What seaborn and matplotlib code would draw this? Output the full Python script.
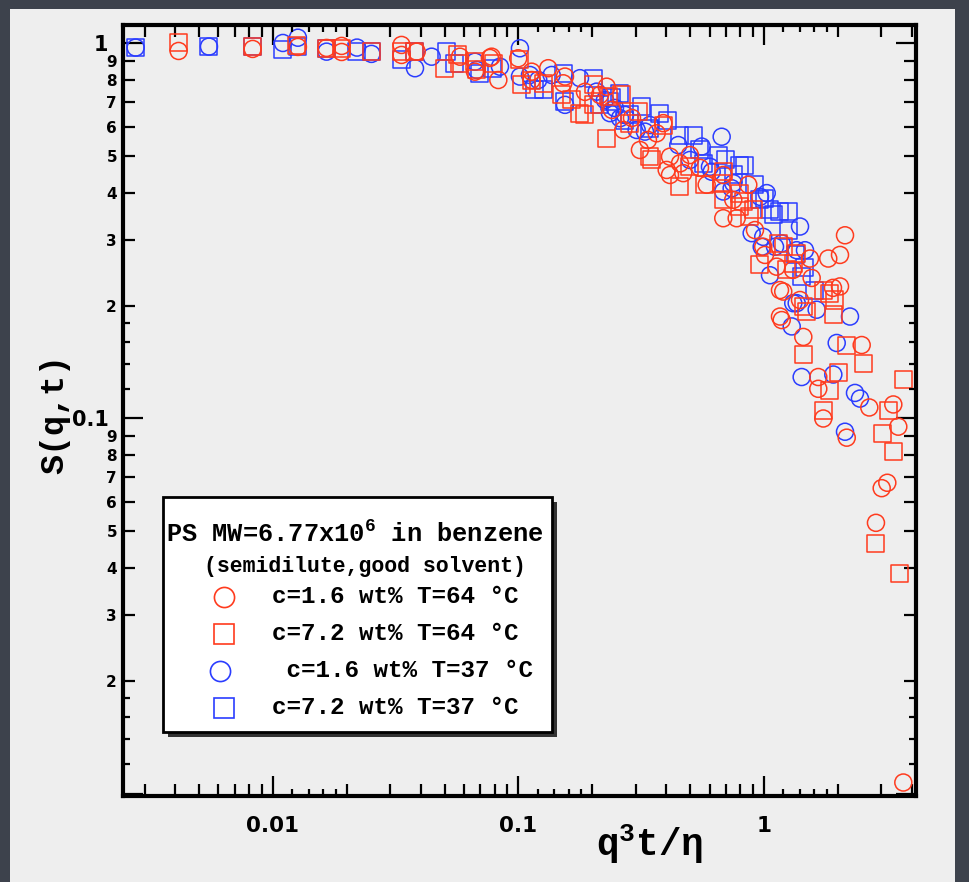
import numpy as np
import pandas as pd
import matplotlib
matplotlib.use("Agg")
import matplotlib.pyplot as plt
import matplotlib.ticker as mticker
from matplotlib.patches import Rectangle
import seaborn as sns

# ---------------- data ----------------
RC_X = [0.00413, 0.00827, 0.01264, 0.01654, 0.01905, 0.01905, 0.0334, 0.0334, 0.0385, 0.0578,
        0.0665, 0.0765, 0.0778, 0.0828, 0.0998, 0.1132, 0.1132, 0.1322, 0.1522, 0.1547,
        0.1866, 0.2148, 0.2287, 0.2404, 0.2673, 0.290, 0.3125, 0.3368, 0.3655, 0.389,
        0.4016, 0.4142, 0.4142, 0.4549, 0.4692, 0.4995, 0.5486, 0.5842, 0.6826, 0.6826,
        0.7498, 0.7742, 0.863, 0.919, 0.993, 1.009, 1.126, 1.162, 1.162, 1.181,
        1.198, 1.313, 1.402, 1.446, 1.539, 1.564, 1.664, 1.664, 1.744, 1.827,
        1.910, 2.040, 2.040, 2.138, 2.173, 2.500, 2.685, 2.858, 3.016, 3.179,
        3.363, 3.524, 3.694]
RC_Y = [0.955, 0.967, 0.979, 0.973, 0.985, 0.949, 0.991, 0.932, 0.951, 0.922,
        0.841, 0.915, 0.922, 0.799, 0.913, 0.799, 0.841, 0.859, 0.783, 0.816,
        0.743, 0.729, 0.767, 0.665, 0.588, 0.633, 0.520, 0.553, 0.576, 0.613,
        0.460, 0.499, 0.446, 0.479, 0.451, 0.504, 0.466, 0.420, 0.446, 0.342,
        0.383, 0.342, 0.420, 0.318, 0.287, 0.273, 0.254, 0.220, 0.187, 0.183,
        0.218, 0.249, 0.207, 0.165, 0.267, 0.237, 0.129, 0.120, 0.100, 0.267,
        0.223, 0.273, 0.225, 0.308, 0.0889, 0.157, 0.107, 0.0527, 0.0652, 0.0674,
        0.109, 0.0951, 0.0107]

RS_X = [0.00413, 0.00827, 0.01249, 0.01654, 0.01905, 0.0252, 0.0334, 0.0379, 0.0502, 0.0567,
        0.0578, 0.0665, 0.0676, 0.0789, 0.1014, 0.1030, 0.1132, 0.1262, 0.150, 0.1647,
        0.1781, 0.1866, 0.2017, 0.2017, 0.2287, 0.2322, 0.2633, 0.2845, 0.3076, 0.3432,
        0.3487, 0.389, 0.4549, 0.4995, 0.575, 0.6725, 0.6826, 0.6826, 0.7985, 0.7985,
        0.8236, 0.877, 0.9046, 0.963, 1.144, 1.198, 1.237, 1.316, 1.359, 1.446,
        1.446, 1.493, 1.744, 1.744, 1.857, 1.857, 1.916, 1.946, 2.007, 2.173,
        2.538, 2.858, 3.045, 3.209, 3.363, 3.548, 3.694]
RS_Y = [1.007, 0.981, 0.987, 0.971, 0.971, 0.951, 0.951, 0.951, 0.859, 0.932,
        0.886, 0.894, 0.850, 0.886, 0.904, 0.775, 0.799, 0.783, 0.729, 0.707,
        0.652, 0.645, 0.775, 0.686, 0.559, 0.721, 0.729, 0.613, 0.658, 0.499,
        0.489, 0.606, 0.415, 0.469, 0.420, 0.424, 0.455, 0.383, 0.399, 0.367,
        0.379, 0.345, 0.360, 0.257, 0.293, 0.287, 0.249, 0.259, 0.276, 0.199,
        0.148, 0.193, 0.220, 0.105, 0.216, 0.119, 0.189, 0.207, 0.133, 0.157,
        0.140, 0.0463, 0.0913, 0.105, 0.0816, 0.0385, 0.127]

BC_X = [0.00276, 0.00549, 0.01098, 0.01264, 0.01654, 0.0220, 0.0252, 0.0379, 0.0443, 0.0665,
        0.0676, 0.0841, 0.1014, 0.1014, 0.1114, 0.1204, 0.1365, 0.1547, 0.1781, 0.2082,
        0.2251, 0.2359, 0.2472, 0.2591, 0.2715, 0.303, 0.3275, 0.3432, 0.4477, 0.4995,
        0.5574, 0.6026, 0.6124, 0.6725, 0.6826, 0.7386, 0.7498, 0.891, 0.963, 0.979,
        0.993, 1.026, 1.058, 1.109, 1.181, 1.297, 1.316, 1.359, 1.359, 1.402,
        1.424, 1.469, 1.639, 1.916, 1.978, 2.138, 2.240, 2.348, 2.460]
BC_Y = [0.975, 0.981, 1.003, 1.036, 0.951, 0.975, 0.938, 0.859, 0.922, 0.894,
        0.850, 0.867, 0.971, 0.816, 0.824, 0.799, 0.824, 0.686, 0.808, 0.744,
        0.707, 0.652, 0.673, 0.632, 0.645, 0.588, 0.582, 0.606, 0.536, 0.489,
        0.531, 0.469, 0.455, 0.564, 0.403, 0.411, 0.424, 0.312, 0.390, 0.287,
        0.305, 0.399, 0.241, 0.287, 0.293, 0.176, 0.203, 0.281, 0.203, 0.325,
        0.129, 0.281, 0.195, 0.131, 0.159, 0.0922, 0.187, 0.117, 0.113]

BS_X = [0.00276, 0.00549, 0.00827, 0.01098, 0.01264, 0.01654, 0.0220, 0.0252, 0.0334, 0.0379,
        0.0510, 0.0551, 0.0697, 0.0787, 0.1167, 0.1262, 0.1522, 0.1547, 0.2017, 0.2359,
        0.2591, 0.2715, 0.3175, 0.3432, 0.3771, 0.4549, 0.5152, 0.5658, 0.6514, 0.7498,
        0.7985, 0.8368, 0.963, 1.058, 1.091, 1.162, 1.256, 1.256, 1.424, 1.613,
        0.2148, 0.2404, 0.2845, 0.4064, 0.5486, 0.694, 0.919, 1.009, 1.338, 1.469]
BS_Y = [0.975, 0.981, 0.981, 0.961, 0.981, 0.971, 0.951, 0.951, 0.904, 0.951,
        0.951, 0.886, 0.833, 0.859, 0.752, 0.752, 0.833, 0.700, 0.808, 0.700,
        0.737, 0.625, 0.678, 0.595, 0.652, 0.570, 0.570, 0.479, 0.504, 0.446,
        0.474, 0.474, 0.383, 0.360, 0.349, 0.356, 0.318, 0.356, 0.239, 0.220,
        0.686, 0.716, 0.645, 0.625, 0.520, 0.489, 0.420, 0.387, 0.273, 0.252]

SERIES_LABELS = ["c=1.6 wt% T=64 \u00b0C", "c=7.2 wt% T=64 \u00b0C",
                 " c=1.6 wt% T=37 \u00b0C", "c=7.2 wt% T=37 \u00b0C"]
LEGEND_HEAD = ["PS MW=6.77x10$^{6}$ in benzene", "(semidilute,good solvent)"]
X_MAJOR = [0.01, 0.1, 1]
X_MAJOR_LABELS = ["0.01", "0.1", "1"]
Y_MAJOR = [0.01, 0.1, 1]
Y_MAJOR_LABELS = ["", "0.1", "1"]
X_LABEL = "q$^{3}$t/\u03b7"
Y_LABEL = "S(q,t)"

# ---------------- style ----------------
sns.set_theme(style="ticks")
plt.rcParams["font.family"] = ["DejaVu Sans"]
plt.rcParams["font.weight"] = "bold"
plt.rcParams["text.color"] = "black"
plt.rcParams["axes.labelcolor"] = "black"
plt.rcParams["xtick.color"] = "black"
plt.rcParams["ytick.color"] = "black"
plt.rcParams["mathtext.fontset"] = "custom"
plt.rcParams["mathtext.rm"] = "Liberation Mono:bold"
plt.rcParams["mathtext.it"] = "Liberation Mono:bold"
plt.rcParams["mathtext.bf"] = "Liberation Mono:bold"
plt.rcParams["mathtext.default"] = "rm"

RED = "#ff3b1e"
BLUE = "#2b3dff"
BG_DARK = "#3d424c"
PANEL = "#eeeeee"
MONO = "Liberation Mono"

fig = plt.figure(figsize=(9.69, 8.82), dpi=100)
fig.patch.set_facecolor(BG_DARK)
fig.add_artist(Rectangle((10 / 969, 0), 945 / 969, 873 / 882, transform=fig.transFigure,
                         facecolor=PANEL, edgecolor="none", zorder=-10))
ax = fig.add_axes([0.12642, 0.09807, 0.81940, 0.87358])
ax.set_facecolor(PANEL)
ax.set_xscale("log")
ax.set_yscale("log")

frames = []
for name, xs, ys in [("rc", RC_X, RC_Y), ("rs", RS_X, RS_Y), ("bc", BC_X, BC_Y), ("bs", BS_X, BS_Y)]:
    frames.append(pd.DataFrame({"x": xs, "y": ys, "series": name}))
df = pd.concat(frames, ignore_index=True)

styles = {"bs": ("s", BLUE), "bc": ("o", BLUE), "rs": ("s", RED), "rc": ("o", RED)}
for name in ["bs", "bc", "rs", "rc"]:
    m, c = styles[name]
    sub = df[df["series"] == name]
    sns.scatterplot(data=sub, x="x", y="y", ax=ax, marker=m, s=150, facecolors="none",
                    edgecolor=c, linewidth=1.1, legend=False, zorder=3)

XLIM = (0.00244, 4.18)
YLIM = (0.00988, 1.12)

# ---------------- ticks ----------------
ax.xaxis.set_major_locator(mticker.FixedLocator(X_MAJOR))
ax.xaxis.set_major_formatter(mticker.FixedFormatter(X_MAJOR_LABELS))
x_minor = [m * 10.0 ** e for e in range(-3, 1) for m in range(2, 10)]
ax.xaxis.set_minor_locator(mticker.FixedLocator(x_minor))
ax.xaxis.set_minor_formatter(mticker.NullFormatter())

ax.yaxis.set_major_locator(mticker.FixedLocator(Y_MAJOR))
ax.yaxis.set_major_formatter(mticker.FixedFormatter(Y_MAJOR_LABELS))
y_minor = [m * 10.0 ** e for e in range(-2, 0) for m in range(2, 10)]
ax.yaxis.set_minor_locator(mticker.FixedLocator(y_minor))
ax.yaxis.set_minor_formatter(mticker.FuncFormatter(
    lambda v, p: f"{int(round(v / 10 ** np.floor(np.log10(v) + 1e-9)))}"))

ax.tick_params(which="both", direction="in", top=True, right=True, width=1.6, color="black")
ax.tick_params(which="major", length=14.5)
ax.tick_params(which="minor", length=8.5)
ax.tick_params(axis="x", which="major", labelsize=15.5, pad=15)
ax.tick_params(axis="y", which="major", labelsize=15, pad=10)
ax.tick_params(axis="y", which="minor", labelsize=11, pad=4)

short_x = [m * 10.0 ** e for e in range(-3, 1) for m in (1.2, 1.4, 1.6, 1.8)]
short_x = [v for v in short_x if XLIM[0] < v < XLIM[1]]
short_y = [m * 10.0 ** e for e in range(-2, 0) for m in (1.2, 1.4, 1.6, 1.8)]
short_y = [v for v in short_y if YLIM[0] < v < YLIM[1]]
tx = ax.get_xaxis_transform()
ty = ax.get_yaxis_transform()
ax.vlines(short_x, 0, 7 / 770.5, transform=tx, colors="black", lw=1.6, clip_on=False, zorder=4)
ax.vlines(short_x, 1 - 7 / 770.5, 1, transform=tx, colors="black", lw=1.6, clip_on=False, zorder=4)
ax.hlines(short_y, 0, 7 / 794, transform=ty, colors="black", lw=1.6, clip_on=False, zorder=4)
ax.hlines(short_y, 1 - 7 / 794, 1, transform=ty, colors="black", lw=1.6, clip_on=False, zorder=4)

ax.set_xlim(*XLIM)
ax.set_ylim(*YLIM)

for s in ax.spines.values():
    s.set_visible(True)
    s.set_linewidth(3.0)
    s.set_color("black")
    s.set_zorder(5)

# ---------------- axis labels ----------------
ax.set_xlabel(X_LABEL, fontfamily=MONO, fontweight="bold", fontsize=27)
ax.xaxis.set_label_coords(0.664, -0.033)
ax.set_ylabel(Y_LABEL, fontfamily=MONO, fontweight="bold", fontsize=24)
ax.yaxis.set_label_coords(-0.066, 0.495)

# ---------------- legend box ----------------
def axx(px):
    return (px - 122.5) / 794.0

def axy(py):
    return (795.5 - py) / 770.5

bx0, bx1, by0, by1 = axx(162.7), axx(551.7), axy(732.3), axy(497.3)
ax.add_patch(Rectangle((bx0 + 5 / 794, by0 - 5 / 770.5), bx1 - bx0, by1 - by0, transform=ax.transAxes,
                       facecolor="#333333", edgecolor="none", zorder=6, clip_on=False))
ax.add_patch(Rectangle((bx0, by0), bx1 - bx0, by1 - by0, transform=ax.transAxes,
                       facecolor="white", edgecolor="black", lw=2.0, zorder=7, clip_on=False))

ax.text(axx(166), axy(541.5), LEGEND_HEAD[0], transform=ax.transAxes, fontfamily=MONO,
        fontweight="bold", fontsize=18.3, ha="left", va="baseline", zorder=8)
ax.text(axx(204), axy(572), LEGEND_HEAD[1], transform=ax.transAxes, fontfamily=MONO,
        fontweight="bold", fontsize=15.5, ha="left", va="baseline", zorder=8)

rows_y = [597.3, 634.3, 671.0, 707.7]
mk_x = [224, 224, 220, 224]
txt_x = [272, 272, 272, 272]
entry_styles = [("o", RED), ("s", RED), ("o", BLUE), ("s", BLUE)]
for lab, ry, mx, tx0, (m, c) in zip(SERIES_LABELS, rows_y, mk_x, txt_x, entry_styles):
    ax.plot([axx(mx)], [axy(ry)], marker=m, ms=14.5, mfc="none", mec=c, mew=1.2, ls="none",
            transform=ax.transAxes, zorder=8, clip_on=False)
    ax.text(axx(tx0), axy(ry + 6), lab, transform=ax.transAxes, fontfamily=MONO,
            fontweight="bold", fontsize=17.5, ha="left", va="baseline", zorder=8)

fig.savefig("out.png", dpi=100, facecolor=fig.get_facecolor())
